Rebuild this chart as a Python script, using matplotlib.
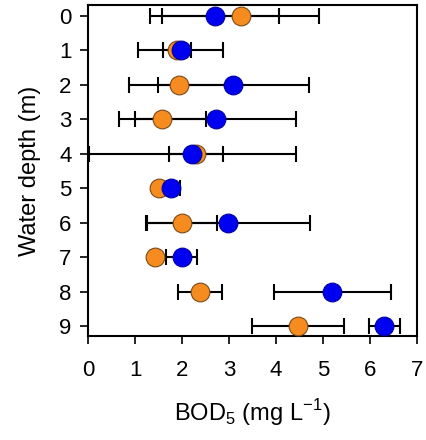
import matplotlib.pyplot as plt
import numpy as np

plt.rcParams['font.family'] = ['Liberation Sans', 'DejaVu Sans']
plt.rcParams['mathtext.fontset'] = 'custom'
plt.rcParams['mathtext.rm'] = 'Liberation Sans'

depth = [0, 1, 2, 3, 4, 5, 6, 7, 8, 9]

# BOD5 mean and error, orange series
bod_orange = [3.25, 1.89, 1.94, 1.58, 2.30, 1.50, 2.00, 1.43, 2.38, 4.46]
err_orange = [1.67, 0.29, 1.08, 0.93, 0.58, 0.08, 0.74, 0.10, 0.47, 0.98]

# BOD5 mean and error, blue series
bod_blue = [2.69, 1.97, 3.09, 2.71, 2.22, 1.76, 2.98, 1.99, 5.20, 6.30]
err_blue = [1.38, 0.90, 1.61, 1.72, 2.21, 0.20, 1.74, 0.33, 1.25, 0.33]

fig = plt.figure(figsize=(4.26, 4.40), dpi=100)
ax = fig.add_axes([0.207, 0.236, 0.772, 0.753])

ax.errorbar(bod_orange, depth, xerr=err_orange, fmt='none', ecolor='black',
            elinewidth=1.5, capsize=5.5, capthick=1.5, zorder=1)
ax.errorbar(bod_blue, depth, xerr=err_blue, fmt='none', ecolor='black',
            elinewidth=1.5, capsize=5.5, capthick=1.5, zorder=1)
ax.plot(bod_orange, depth, 'o', markersize=13.5, markerfacecolor='#f68b1f',
        markeredgecolor='#7a4a1a', markeredgewidth=0.8, zorder=3)
ax.plot(bod_blue, depth, 'o', markersize=13.5, markerfacecolor='#0000f0',
        markeredgecolor='#0000a0', markeredgewidth=0.8, zorder=4)

ax.set_xlim(0, 7)
ax.set_ylim(9.28, -0.31)
ax.set_xticks(np.arange(0, 8, 1))
ax.set_yticks(depth)
ax.tick_params(direction='out', length=6, width=1.2, labelsize=16)
ax.tick_params(axis='x', pad=11)
ax.tick_params(axis='y', pad=6)
for sp in ax.spines.values():
    sp.set_linewidth(1.5)

ax.set_xlabel('BOD$_5$ (mg L$^{-1}$)', fontsize=17, labelpad=12)
ax.set_ylabel('Water depth (m)', fontsize=17, labelpad=13)

fig.savefig('out.png', dpi=100)
